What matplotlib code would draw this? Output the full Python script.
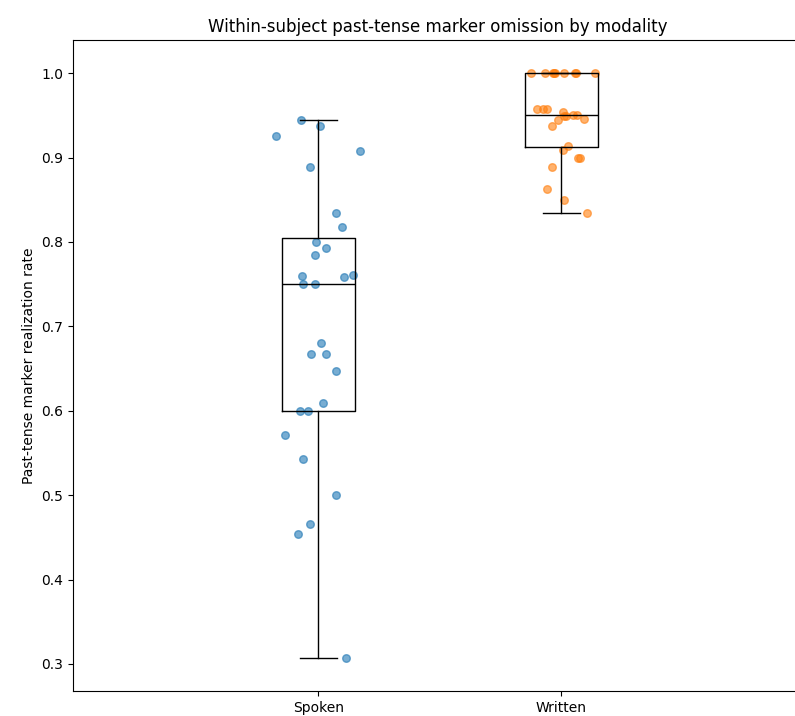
import matplotlib
matplotlib.use("Agg")
import matplotlib.pyplot as plt
import numpy as np

# per-subject realization rates
spoken = [0.945, 0.937, 0.925, 0.908, 0.889, 0.834, 0.818, 0.800, 0.793, 0.785,
          0.760, 0.759, 0.761, 0.750, 0.750, 0.680, 0.667, 0.667, 0.647, 0.609,
          0.600, 0.600, 0.571, 0.543, 0.500, 0.466, 0.454, 0.307]
spoken_jit = [-0.070, 0.008, -0.174, 0.170, -0.036, 0.071, 0.095, -0.010, 0.033, -0.015,
              -0.069, 0.106, 0.143, -0.063, -0.015, 0.012, -0.030, 0.033, 0.071, 0.018,
              -0.074, -0.042, -0.136, -0.063, 0.071, -0.034, -0.082, 0.114]

written = [1.0, 1.0, 1.0, 1.0, 1.0, 1.0, 1.0, 1.0, 1.0, 0.949,
           0.958, 0.957, 0.958, 0.954, 0.949, 0.950, 0.950, 0.946, 0.944, 0.937,
           0.914, 0.909, 0.900, 0.900, 0.889, 0.863, 0.850, 0.834]
written_jit = [-0.125, -0.066, -0.035, -0.025, -0.030, 0.012, 0.054, 0.060, 0.140, 0.020,
               -0.100, -0.075, -0.059, 0.005, 0.010, 0.048, 0.064, 0.093, -0.014, -0.039,
               0.026, 0.005, 0.068, 0.078, -0.039, -0.060, 0.010, 0.107]

labels = ["Spoken", "Written"]

fig = plt.figure(figsize=(7.95, 7.16), dpi=100)
ax = fig.add_axes([0.0918, 0.0349, 0.917, 0.909])

black = dict(color="black")
ax.boxplot([spoken, written], positions=[1, 2], widths=0.3, showfliers=False,
           boxprops=black, whiskerprops=black, capprops=black, medianprops=black)

ax.scatter(1 + np.array(spoken_jit), spoken, s=30, alpha=0.6, color="C0")
ax.scatter(2 + np.array(written_jit), written, s=30, alpha=0.6, color="C1")

ax.set_xlim(-0.01, 2.99)
ax.set_ylim(0.268, 1.039)
ax.set_xticks([1, 2])
ax.set_xticklabels(labels)
ax.set_ylabel("Past-tense marker realization rate")
ax.set_title("Within-subject past-tense marker omission by modality")

fig.savefig("out.png", dpi=100)
